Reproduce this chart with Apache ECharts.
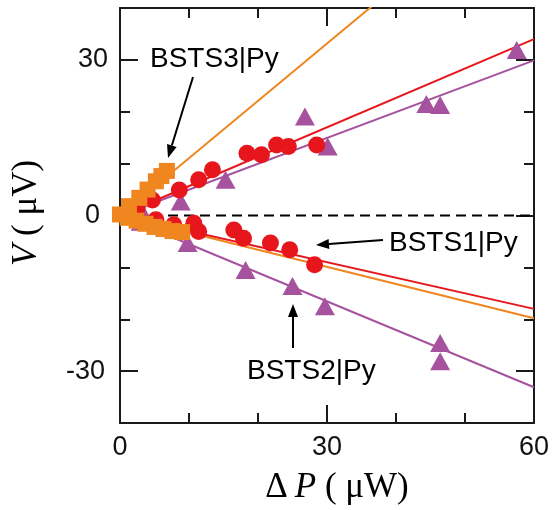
<!DOCTYPE html>
<html>
<head>
<meta charset="utf-8">
<script src="https://cdn.jsdelivr.net/npm/echarts@6/dist/echarts.min.js"></script>
<style>html,body{margin:0;padding:0;background:#fff;}#c{width:552px;height:510px;}</style>
</head>
<body>
<div id="c"></div>
<script>
// ---- data ----
const xRange = [0, 60];
const yRange = [-40, 40];
const xTickLabels = [0, 30, 60];
const yTickLabels = [-30, 0, 30];

// BSTS1|Py (red circles)
const bsts1Pos = [[2.5,1.5],[4.7,3.0],[8.6,4.9],[11.4,6.9],[13.4,8.8],[18.4,12.0],[20.5,11.7],[22.7,13.6],[24.4,13.3],[28.5,13.6]];
const bsts1Neg = [[2.5,-0.3],[5.2,-0.8],[7.8,-1.8],[10.7,-1.5],[11.4,-3.1],[16.5,-2.8],[17.9,-4.4],[21.8,-5.3],[24.6,-6.6],[28.2,-9.5]];
// BSTS2|Py (purple triangles)
const bsts2Pos = [[3.0,1.2],[8.8,2.7],[15.3,6.9],[26.8,19.1],[30.1,13.3],[44.4,21.5],[46.4,21.3],[57.5,31.9]];
const bsts2Neg = [[3.0,-1.2],[9.8,-5.3],[18.2,-10.5],[25.0,-13.6],[29.7,-17.5],[46.4,-24.6],[46.4,-28.1]];
// BSTS3|Py (orange squares)
const bsts3Pos = [[0.0,0.2],[1.3,1.8],[2.8,3.4],[4.0,5.0],[5.2,6.6],[6.0,7.6],[6.8,8.6]];
const bsts3Neg = [[1.1,-0.45],[2.4,-1.0],[3.7,-1.6],[5.0,-2.2],[6.3,-2.6],[7.6,-3.0],[9.0,-3.2]];

// linear fits (end points)
const fit1Pos = [[0,0],[60,34.0]];
const fit1Neg = [[0,0],[60,-18.0]];
const fit2Pos = [[0,0],[60,29.9]];
const fit2Neg = [[0,0],[60,-33.1]];
const fit3Pos = [[0,0],[60,66.3]];
const fit3Neg = [[0,0],[60,-19.8]];
const zeroLine = [[0,0],[60,0]];

// ---- styles ----
const RED = '#E6161C', PURPLE = '#A6529F', ORANGE = '#F0861F', INK = '#1a1a1a';
const SANS = '"Liberation Sans", Arial, sans-serif';
const SERIF = '"Liberation Serif", "Times New Roman", serif';

const chart = echarts.init(document.getElementById('c'), null, {renderer: 'canvas'});

const lineCommon = {width: 2, color: INK};
function xAx(pos, labels) {
  return {
    type: 'value', position: pos, min: xRange[0], max: xRange[1], interval: 30,
    axisLine: {show: true, onZero: false, lineStyle: lineCommon},
    axisTick: {show: true, inside: true, length: 18, lineStyle: lineCommon},
    minorTick: {show: true, splitNumber: 3, length: 10, lineStyle: lineCommon},
    splitLine: {show: false}, minorSplitLine: {show: false},
    axisLabel: labels ? {show: true, fontSize: 27, fontFamily: SANS, color: '#111', margin: 11} : {show: false}
  };
}
function yAxMinor(pos, labels) {
  return {
    type: 'value', position: pos, min: yRange[0], max: yRange[1], interval: 10,
    axisLine: {show: true, onZero: false, lineStyle: lineCommon},
    axisTick: {show: true, inside: true, length: 10, lineStyle: lineCommon},
    splitLine: {show: false},
    axisLabel: labels ? {
      show: true, margin: 12, color: '#111', fontSize: 27, fontFamily: SANS,
      formatter: function (v) {
        if (yTickLabels.indexOf(v) < 0) return '';
        if (v === 0) return '{z|0}';
        if (v < 0) return '{n|' + v + '}';
        return '{p|' + v + '}';
      },
      rich: {
        z: {fontSize: 27, fontFamily: SANS, color: '#111', padding: [0, 8, 0, 0]},
        n: {fontSize: 27, fontFamily: SANS, color: '#111', padding: [0, 3, 0, 0]},
        p: {fontSize: 27, fontFamily: SANS, color: '#111'}
      }
    } : {show: false}
  };
}
function yAxMajor(pos) {
  return {
    type: 'value', position: pos, min: yRange[0], max: yRange[1], interval: 10,
    axisLine: {show: false, onZero: false},
    axisTick: {show: true, inside: true, length: 18, lineStyle: lineCommon, customValues: yTickLabels},
    splitLine: {show: false},
    axisLabel: {show: false}
  };
}

function fitLine(data, color) {
  return {type: 'line', data: data, symbol: 'none', showSymbol: false, silent: true,
    lineStyle: {color: color, width: 2}, z: 2, clip: true};
}
function scatter(data, symbol, size, color) {
  return {type: 'scatter', data: data, symbol: symbol, symbolSize: size,
    itemStyle: {color: color, opacity: 1}, z: 3, clip: false};
}

function arrow(x1, y1, x2, y2) {
  const ang = Math.atan2(y2 - y1, x2 - x1);
  const L = 13, W = 5;
  const bx = x2 - L * Math.cos(ang), by = y2 - L * Math.sin(ang);
  const px = -Math.sin(ang) * W, py = Math.cos(ang) * W;
  return [
    {type: 'line', shape: {x1: x1, y1: y1, x2: bx, y2: by}, style: {stroke: '#000', lineWidth: 2}, z: 100},
    {type: 'polygon', shape: {points: [[x2, y2], [bx + px, by + py], [bx - px, by - py]]}, style: {fill: '#000'}, z: 100}
  ];
}
function label(text, x, y) {
  return {type: 'text', z: 100, style: {text: text, x: x, y: y, fontSize: 28, fontFamily: SANS, fill: '#000',
    align: 'left', textAlign: 'left', verticalAlign: 'middle', textVerticalAlign: 'middle'}};
}

const TS = 35;
const option = {
  animation: false,
  backgroundColor: '#fff',
  grid: {left: 120, right: 14, top: 8, bottom: 87, containLabel: false},
  xAxis: [xAx('bottom', true), xAx('top', false)],
  yAxis: [yAxMinor('left', true), yAxMajor('left'), yAxMinor('right', false), yAxMajor('right')],
  series: [
    fitLine(fit2Pos, PURPLE), fitLine(fit2Neg, PURPLE),
    fitLine(fit3Pos, ORANGE), fitLine(fit3Neg, ORANGE),
    fitLine(fit1Pos, RED), fitLine(fit1Neg, RED),
    {type: 'line', data: zeroLine, symbol: 'none', silent: true, z: 2,
      lineStyle: {color: '#000', width: 2, type: [10, 6]}},
    scatter(bsts2Pos, 'triangle', [20, 18], PURPLE),
    scatter(bsts2Neg, 'triangle', [20, 18], PURPLE),
    scatter(bsts1Pos, 'circle', 17, RED),
    scatter(bsts1Neg, 'circle', 17, RED),
    scatter(bsts3Pos, 'rect', 16, ORANGE),
    scatter(bsts3Neg, 'rect', 16, ORANGE)
  ],
  graphic: [].concat(
    [label('BSTS3|Py', 150, 59), label('BSTS1|Py', 389, 243), label('BSTS2|Py', 247, 371)],
    arrow(193, 77, 168, 158),
    arrow(383, 240, 316, 245),
    arrow(293, 348, 293, 304),
    [
      {type: 'text', z: 100, x: 337, y: 488, style: {
        text: '{s|Δ\u2009}{i|P}{s| ( μW)}', align: 'center', textAlign: 'center', verticalAlign: 'middle', textVerticalAlign: 'middle',
        rich: {
          s: {fontSize: TS, fontFamily: SERIF, fill: '#000'},
          i: {fontSize: TS, fontFamily: SERIF, fontStyle: 'italic', fill: '#000'}
        }}},
      {type: 'text', z: 100, x: 27, y: 213, rotation: Math.PI / 2, style: {
        text: '{i|V}{s| ( μV)}', align: 'center', textAlign: 'center', verticalAlign: 'middle', textVerticalAlign: 'middle',
        rich: {
          s: {fontSize: TS, fontFamily: SERIF, fill: '#000'},
          i: {fontSize: TS, fontFamily: SERIF, fontStyle: 'italic', fill: '#000'}
        }}}
    ]
  )
};
chart.setOption(option);
</script>
</body>
</html>
